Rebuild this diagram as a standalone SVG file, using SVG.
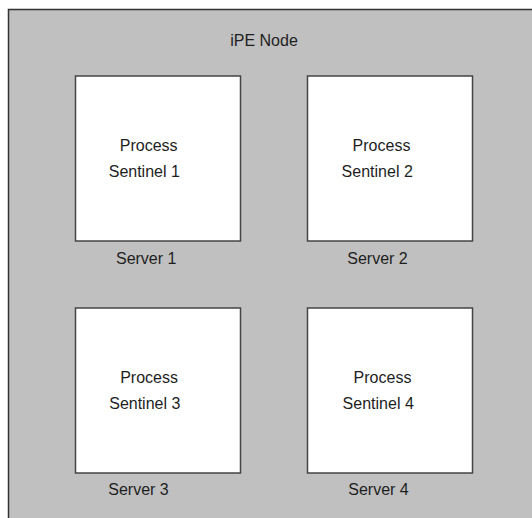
<svg xmlns="http://www.w3.org/2000/svg" width="532" height="518" viewBox="0 0 532 518">
  <style>
    .frame { fill: #c0c0c0; stroke: #333333; stroke-width: 1.5; }
    .box { fill: #ffffff; stroke: #444444; stroke-width: 1.5; }
    .lbl { font-family: "Liberation Sans", Arial, sans-serif; font-size: 16px; fill: #1e1e1e; text-anchor: middle; }
  </style>
  <rect width="532" height="518" fill="#ffffff"/>
  <!-- enclosing node area, open to the right and bottom -->
  <g id="ipe-node">
    <rect class="frame" x="8.5" y="9.5" width="540" height="530"/>
    <text class="lbl" x="264" y="46">iPE Node</text>
  </g>
  <g id="server-1">
    <rect class="box" x="75.5" y="76" width="165" height="165"/>
    <text class="lbl" x="148.7" y="151">Process</text>
    <text class="lbl" x="144.3" y="177">Sentinel 1</text>
    <text class="lbl" x="146.2" y="264">Server 1</text>
  </g>
  <g id="server-2">
    <rect class="box" x="307.5" y="76" width="165" height="165"/>
    <text class="lbl" x="381.5" y="151">Process</text>
    <text class="lbl" x="377.2" y="177">Sentinel 2</text>
    <text class="lbl" x="377.5" y="264">Server 2</text>
  </g>
  <g id="server-3">
    <rect class="box" x="75.5" y="308" width="165" height="165"/>
    <text class="lbl" x="149.1" y="383">Process</text>
    <text class="lbl" x="144.8" y="408.5">Sentinel 3</text>
    <text class="lbl" x="138.5" y="494.5">Server 3</text>
  </g>
  <g id="server-4">
    <rect class="box" x="307.5" y="308" width="165" height="165"/>
    <text class="lbl" x="382.5" y="383">Process</text>
    <text class="lbl" x="378.2" y="408.5">Sentinel 4</text>
    <text class="lbl" x="378.5" y="494.5">Server 4</text>
  </g>
  <g id="connectors"/>
</svg>
